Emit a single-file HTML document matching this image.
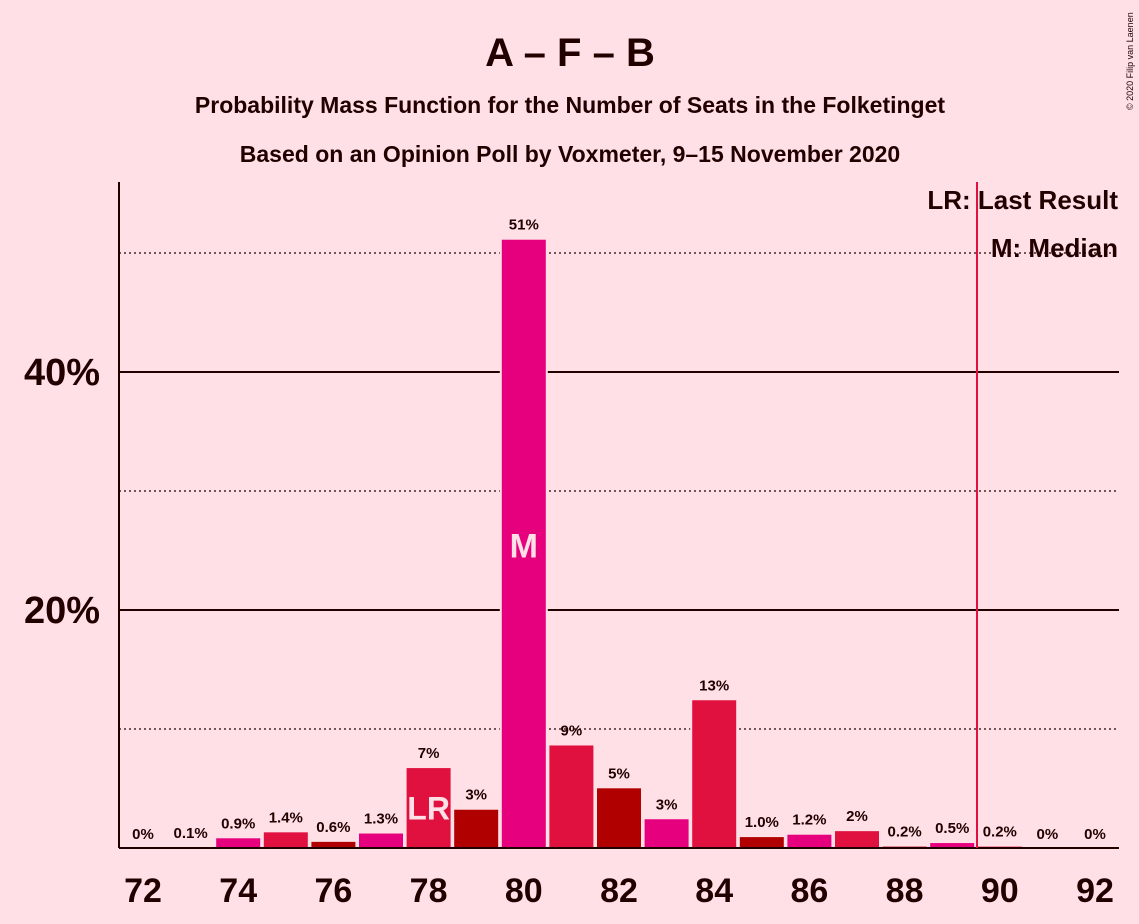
<!DOCTYPE html>
<html><head><meta charset="utf-8"><style>
body{margin:0;background:#FFE0E6;}
svg{display:block;font-family:"Liberation Sans",sans-serif;}
</style></head><body>
<svg id="chart" width="1139" height="924">
<rect width="1139" height="924" fill="#FFE0E6"/>
<text x="570" y="66" text-anchor="middle" font-size="40" font-weight="bold" fill="#200">A – F – B</text>
<text x="570" y="113" text-anchor="middle" font-size="23" font-weight="bold" fill="#200">Probability Mass Function for the Number of Seats in the Folketinget</text>
<text x="570" y="162" text-anchor="middle" font-size="23" font-weight="bold" fill="#200">Based on an Opinion Poll by Voxmeter, 9–15 November 2020</text>
<text x="1133" y="110" font-size="9" fill="#200" transform="rotate(-90 1133 110)">© 2020 Filip van Laenen</text>
<g id="grid"></g>
<g id="bars"></g>
<g id="labels"></g>
<line x1="119" y1="182" x2="119" y2="848" stroke="#200" stroke-width="2"/>
<line x1="119" y1="848" x2="1119" y2="848" stroke="#200" stroke-width="2"/>
<line x1="977" y1="182" x2="977" y2="848" stroke="#E0103F" stroke-width="2"/>
<text x="1118" y="209" text-anchor="end" font-size="26" font-weight="bold" fill="#200">LR: Last Result</text>
<text x="1118" y="257" text-anchor="end" font-size="26" font-weight="bold" fill="#200">M: Median</text>
</svg>
<script>
const seats=[72,73,74,75,76,77,78,79,80,81,82,83,84,85,86,87,88,89,90,91,92];
const probs=[0,0.1,0.9,1.4,0.6,1.3,6.8,3.3,51.2,8.7,5.1,2.5,12.5,1.0,1.2,1.5,0.2,0.5,0.2,0,0];
const printed=["0%","0.1%","0.9%","1.4%","0.6%","1.3%","7%","3%","51%","9%","5%","3%","13%","1.0%","1.2%","2%","0.2%","0.5%","0.2%","0%","0%"];
const yTicks=[20,40];
const yDotted=[10,30,50];
const xTicks=[72,74,76,78,80,82,84,86,88,90,92];
const median=80, lastResult=78;
const NS="http://www.w3.org/2000/svg";
const y=v=>848-v*11.9;
const x=s=>143+(s-72)*47.6;
function mk(t,a,p){const e=document.createElementNS(NS,t);for(const k in a)e.setAttribute(k,a[k]);p.appendChild(e);return e;}
const grid=document.getElementById('grid'),bars=document.getElementById('bars'),labels=document.getElementById('labels'),svg=document.getElementById('chart');
yDotted.forEach(v=>{const l=mk('line',{x1:119,x2:1119,y1:y(v),y2:y(v),stroke:'#200','stroke-width':1.2,'stroke-dasharray':'2,3'},grid);

});
yTicks.forEach(v=>{const l=mk('line',{x1:119,x2:1119,y1:y(v),y2:y(v),stroke:'#200','stroke-width':2},grid);


const t=mk('text',{x:100,y:y(v)+13,'text-anchor':'end','font-size':38,'font-weight':'bold',fill:'#200'},svg);t.textContent=v+'%';

});
const cols={0:'#E6007E',1:'#E0103F',2:'#B00000'};
seats.forEach((s,i)=>{const c=cols[((s-80)%3+3)%3];const h=probs[i]*11.9;
if(probs[i]>0){const r=mk('rect',{x:x(s)-23,y:y(probs[i]),width:46,height:h,fill:c,stroke:'#FFE0E6','stroke-width':2},bars);

}
const t=mk('text',{x:x(s),y:y(probs[i])-9,'text-anchor':'middle','font-size':15,'font-weight':'bold',fill:'#200'},labels);t.textContent=printed[i];


if(s===median){const m=mk('text',{x:x(s),y:y(25)+7,'text-anchor':'middle','font-size':34,'font-weight':'bold',fill:'#FFE0E6'},labels);m.textContent='M';

}
if(s===lastResult){const m=mk('text',{x:x(s),y:y(probs[i]/2)+12,'text-anchor':'middle','font-size':32,'font-weight':'bold',fill:'#FFE0E6'},labels);m.textContent='LR';

}
});
xTicks.forEach(s=>{const t=mk('text',{x:x(s),y:902,'text-anchor':'middle','font-size':34,'font-weight':'bold',fill:'#200'},svg);t.textContent=s;

});
</script>
</body></html>
